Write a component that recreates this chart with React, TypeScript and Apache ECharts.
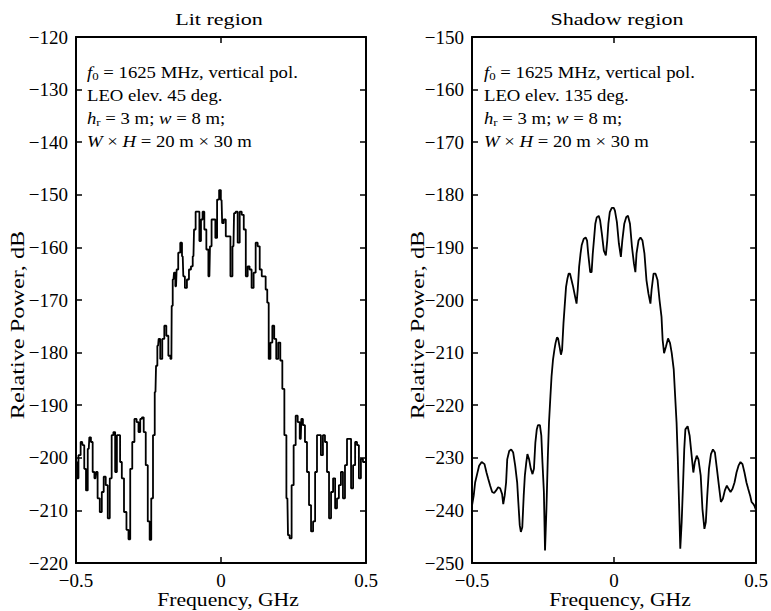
import React, { useEffect, useRef } from "react";
import * as echarts from "echarts";

const freqRange = [-0.5, 0.5];
const litRange = [-220, -120];
const shadowRange = [-250, -150];

const litFreq = [
  -0.5, -0.494, -0.489, -0.479, -0.475, -0.468, -0.463, -0.456, -0.452, -0.445,
  -0.44, -0.433, -0.429, -0.422, -0.414, -0.408, -0.401, -0.394, -0.387, -0.38,
  -0.374, -0.368, -0.362, -0.356, -0.351, -0.345, -0.339, -0.33, -0.322, -0.316,
  -0.31, -0.302, -0.295, -0.287, -0.282, -0.275, -0.27, -0.263, -0.256, -0.249,
  -0.243, -0.238, -0.231, -0.226, -0.222, -0.217, -0.213, -0.206, -0.199, -0.192,
  -0.185, -0.178, -0.171, -0.169, -0.164, -0.16, -0.155, -0.151, -0.144, -0.137,
  -0.132, -0.128, -0.121, -0.114, -0.107, -0.1, -0.095, -0.091, -0.084, -0.077,
  -0.072, -0.066, -0.061, -0.054, -0.047, -0.04, -0.036, -0.029, -0.022, -0.017,
  -0.01, -0.003, 0.002, 0.006, 0.013, 0.02, 0.029, 0.036, 0.043, 0.047,
  0.054, 0.061, 0.068, 0.075, 0.082, 0.089, 0.095, 0.102, 0.109, 0.116,
  0.123, 0.13, 0.137, 0.144, 0.151, 0.157, 0.162, 0.167, 0.174, 0.18,
  0.187, 0.194, 0.201, 0.208, 0.215, 0.222, 0.229, 0.233, 0.24, 0.247,
  0.254, 0.261, 0.268, 0.275, 0.279, 0.286, 0.293, 0.3, 0.307, 0.314,
  0.321, 0.328, 0.334, 0.341, 0.348, 0.355, 0.362, 0.369, 0.376, 0.383,
  0.39, 0.397, 0.403, 0.41, 0.417, 0.424, 0.431, 0.438, 0.445, 0.452,
  0.459, 0.466, 0.472, 0.479, 0.486, 0.493, 0.5,
];
const litPower = [
  -200.8, -203.9, -199.5, -197.0, -197.6, -202.1, -206.2, -198.3, -196.1, -197.0,
  -202.7, -203.9, -202.7, -207.7, -210.3, -206.5, -203.6, -205.2, -211.5, -203.9,
  -195.7, -195.1, -202.7, -195.7, -195.7, -200.8, -203.9, -210.3, -213.7, -215.5,
  -202.1, -197.0, -192.6, -193.2, -195.1, -192.6, -192.3, -195.1, -201.4, -212.1,
  -215.6, -207.7, -195.7, -187.5, -182.5, -178.7, -177.4, -181.2, -177.4, -174.9,
  -176.8, -180.6, -181.2, -171.1, -166.1, -164.8, -167.4, -164.2, -161.0, -159.1,
  -161.7, -165.5, -167.7, -166.1, -164.2, -163.6, -161.7, -156.6, -153.2, -153.2,
  -158.8, -154.7, -153.2, -156.6, -160.4, -165.5, -159.8, -154.7, -154.7, -158.2,
  -150.9, -149.1, -151.0, -155.4, -154.7, -157.9, -157.9, -165.5, -159.8, -153.5,
  -153.2, -159.1, -153.2, -153.8, -156.6, -165.5, -163.6, -164.2, -167.7, -164.8,
  -159.1, -159.8, -164.2, -165.5, -165.5, -168.0, -170.5, -181.2, -178.1, -174.9,
  -177.4, -181.2, -178.1, -181.5, -186.9, -195.7, -207.7, -214.7, -215.3, -205.2,
  -197.6, -192.0, -193.2, -196.4, -192.6, -193.8, -197.0, -202.7, -209.0, -214.0,
  -212.1, -202.7, -195.7, -195.7, -199.5, -195.7, -197.0, -202.7, -211.5, -206.5,
  -203.9, -209.6, -207.7, -205.2, -202.7, -207.7, -201.4, -196.4, -196.4, -205.8,
  -201.4, -197.0, -197.6, -203.9, -200.2, -200.8, -200.8,
];

const shadowFreq = [
  -0.5, -0.494, -0.489, -0.482, -0.475, -0.466, -0.456, -0.449, -0.443, -0.436,
  -0.429, -0.422, -0.415, -0.408, -0.401, -0.394, -0.39, -0.385, -0.38, -0.376,
  -0.369, -0.362, -0.355, -0.348, -0.341, -0.337, -0.332, -0.328, -0.323, -0.318,
  -0.314, -0.309, -0.305, -0.299, -0.293, -0.287, -0.282, -0.277, -0.272, -0.268,
  -0.261, -0.256, -0.252, -0.247, -0.243, -0.238, -0.233, -0.229, -0.224, -0.22,
  -0.215, -0.21, -0.206, -0.201, -0.197, -0.192, -0.187, -0.183, -0.178, -0.174,
  -0.169, -0.164, -0.16, -0.155, -0.151, -0.144, -0.137, -0.132, -0.128, -0.123,
  -0.118, -0.114, -0.107, -0.1, -0.095, -0.091, -0.084, -0.079, -0.075, -0.07,
  -0.066, -0.061, -0.054, -0.049, -0.043, -0.036, -0.029, -0.024, -0.02, -0.015,
  -0.008, -0.001, 0.003, 0.01, 0.017, 0.024, 0.029, 0.036, 0.043, 0.049,
  0.056, 0.063, 0.07, 0.075, 0.079, 0.086, 0.093, 0.1, 0.107, 0.114,
  0.121, 0.128, 0.132, 0.139, 0.146, 0.153, 0.16, 0.167, 0.171, 0.176,
  0.183, 0.19, 0.197, 0.203, 0.21, 0.215, 0.22, 0.224, 0.229, 0.233,
  0.238, 0.243, 0.247, 0.251, 0.259, 0.266, 0.272, 0.279, 0.284, 0.291,
  0.297, 0.305, 0.311, 0.318, 0.323, 0.328, 0.334, 0.341, 0.348, 0.355,
  0.362, 0.369, 0.376, 0.383, 0.39, 0.397, 0.403, 0.41, 0.417, 0.424,
  0.431, 0.438, 0.445, 0.452, 0.459, 0.466, 0.472, 0.479, 0.484, 0.489,
  0.494, 0.5,
];
const shadowPower = [
  -239.1, -237.2, -234.7, -233.1, -231.5, -230.8, -231.2, -232.8, -234.0, -235.3,
  -236.5, -236.7, -236.2, -235.6, -235.8, -236.9, -238.8, -237.2, -234.7, -230.3,
  -228.7, -228.4, -229.0, -231.5, -234.7, -238.4, -242.8, -244.1, -243.2, -237.2,
  -233.4, -230.9, -229.3, -230.3, -232.1, -233.1, -232.1, -227.1, -224.6, -223.8,
  -223.8, -225.8, -230.9, -236.5, -247.6, -239.7, -229.6, -223.3, -218.3, -214.5,
  -211.4, -209.5, -208.2, -207.1, -207.3, -208.8, -210.4, -209.5, -204.4, -201.3,
  -197.5, -195.9, -195.0, -195.0, -195.9, -197.5, -199.4, -200.7, -198.1, -193.7,
  -191.2, -189.6, -188.4, -188.1, -188.7, -191.2, -194.7, -194.7, -191.2, -188.1,
  -185.5, -184.3, -184.0, -184.9, -187.4, -190.6, -191.5, -188.7, -185.5, -183.3,
  -182.5, -182.5, -183.0, -185.2, -189.3, -191.8, -188.7, -185.5, -184.2, -184.0,
  -185.5, -189.9, -193.1, -194.7, -191.2, -188.7, -188.1, -188.7, -191.2, -196.2,
  -198.8, -200.7, -198.1, -195.0, -195.0, -196.2, -200.0, -203.2, -207.6, -210.1,
  -208.8, -207.3, -208.2, -210.1, -213.2, -218.3, -223.3, -229.6, -239.1, -247.3,
  -242.2, -234.7, -228.4, -224.6, -224.0, -225.8, -229.0, -232.8, -230.9, -229.6,
  -230.3, -233.4, -239.7, -243.5, -242.2, -237.2, -232.1, -229.3, -228.4, -229.0,
  -232.1, -235.3, -238.4, -237.8, -236.2, -235.3, -235.9, -236.5, -235.9, -234.7,
  -232.8, -231.5, -230.8, -231.2, -232.8, -234.7, -235.9, -237.2, -238.4, -238.7,
  -239.1, -240.0,
];

const titles = ["Lit region", "Shadow region"];
const elevations = ["45", "135"];
const xName = "Frequency, GHz";
const yName = "Relative Power, dB";

const FONT = "Liberation Serif";

const minusFmt = (v: number) => (v < 0 ? "\u2212" + String(Math.abs(v)) : String(v));

function annotation(elev: string) {
  return (
    "{i|f}{sub|0}{n| = 1625 MHz, vertical pol.}\n" +
    "{n|LEO elev. " + elev + " deg.}\n" +
    "{i|h}{sub|r}{n| = 3 m; }{i|w}{n| = 8 m;}\n" +
    "{i|W}{n| \u00d7 }{i|H}{n| = 20 m \u00d7 30 m}"
  );
}

export default function App() {
  const ref = useRef<HTMLDivElement>(null);
  useEffect(() => {
    document.body.style.margin = "0";
    if (!ref.current) return;
    const chart = echarts.init(ref.current, null, { renderer: "svg" });
    const grids = [
      { left: 76, top: 37, width: 290, height: 526 },
      { left: 472, top: 37, width: 289, height: 526 },
    ];
    const ranges = [litRange, shadowRange];
    const axisLine = { show: true, onZero: false, lineStyle: { color: "#000", width: 2 } };
    const tick = { show: true, inside: true, length: 6, lineStyle: { color: "#000", width: 1.5 } };
    const labelStyle = { fontFamily: FONT, fontSize: 19, color: "#000" };
    const xAxis: any[] = [];
    const yAxis: any[] = [];
    grids.forEach((_, gi) => {
      xAxis.push({
        type: "value",
        gridIndex: gi,
        position: "bottom",
        min: freqRange[0],
        max: freqRange[1],
        interval: 0.5,
        axisLine,
        axisTick: tick,
        splitLine: { show: false },
        axisLabel: { ...labelStyle, margin: 8, formatter: minusFmt },
      });
      xAxis.push({
        type: "value",
        gridIndex: gi,
        position: "top",
        min: freqRange[0],
        max: freqRange[1],
        interval: 0.5,
        axisLine,
        axisTick: tick,
        splitLine: { show: false },
        axisLabel: { show: false },
      });
      yAxis.push({
        type: "value",
        gridIndex: gi,
        position: "left",
        min: ranges[gi][0],
        max: ranges[gi][1],
        interval: 10,
        axisLine,
        axisTick: tick,
        splitLine: { show: false },
        axisLabel: { ...labelStyle, margin: 8, formatter: minusFmt },
      });
      yAxis.push({
        type: "value",
        gridIndex: gi,
        position: "right",
        min: ranges[gi][0],
        max: ranges[gi][1],
        interval: 10,
        axisLine,
        axisTick: tick,
        splitLine: { show: false },
        axisLabel: { show: false },
      });
    });

    const lit = litFreq.map((f, i) => [f, litPower[i]]);
    const shadow = shadowFreq.map((f, i) => [f, shadowPower[i]]);

    const rich = {
      n: { fontFamily: FONT, fontSize: 16, fill: "#000", lineHeight: 23 },
      i: { fontFamily: FONT, fontSize: 16, fontStyle: "italic", fill: "#000", lineHeight: 23 },
      sub: { fontFamily: FONT, fontSize: 11, fill: "#000", padding: [8, 0, 0, 0], lineHeight: 23 },
    };

    const titleX = [219, 617];
    const annX = [87, 484];
    const xNameX = [228, 620];
    const yNameX = [18, 418];

    chart.setOption({
      animation: false,
      backgroundColor: "#fff",
      grid: grids,
      xAxis,
      yAxis,
      series: [
        {
          type: "line",
          xAxisIndex: 0,
          yAxisIndex: 0,
          data: lit,
          step: "middle",
          showSymbol: false,
          lineStyle: { color: "#000", width: 1.8 },
        },
        {
          type: "line",
          xAxisIndex: 2,
          yAxisIndex: 2,
          data: shadow,
          showSymbol: false,
          lineStyle: { color: "#000", width: 1.8 },
        },
      ],
      graphic: [
        ...titles.map((t, i) => ({
          type: "text",
          x: titleX[i],
          y: 19,
          scaleX: 1.3,
          style: {
            text: t,
            fontFamily: FONT,
            fontSize: 17,
            fill: "#000",
            textAlign: "center",
            textVerticalAlign: "middle",
          },
        })),
        ...elevations.map((e, i) => ({
          type: "text",
          x: annX[i],
          y: 61,
          scaleX: 1.17,
          style: {
            text: annotation(e),
            rich,
            fontFamily: FONT,
            fontSize: 16,
            fill: "#000",
            lineHeight: 23,
          },
        })),
        ...xNameX.map((x) => ({
          type: "text",
          x,
          y: 599,
          scaleX: 1.14,
          style: {
            text: xName,
            fontFamily: FONT,
            fontSize: 19,
            fill: "#000",
            textAlign: "center",
            textVerticalAlign: "middle",
          },
        })),
        ...yNameX.map((x) => ({
          type: "text",
          x,
          y: 325,
          rotation: Math.PI / 2,
          scaleX: 1.35,
          style: {
            text: yName,
            fontFamily: FONT,
            fontSize: 18,
            fill: "#000",
            textAlign: "center",
            textVerticalAlign: "middle",
          },
        })),
      ],
    });
    return () => chart.dispose();
  }, []);
  return <div ref={ref} style={{ width: 771, height: 611 }} />;
}
